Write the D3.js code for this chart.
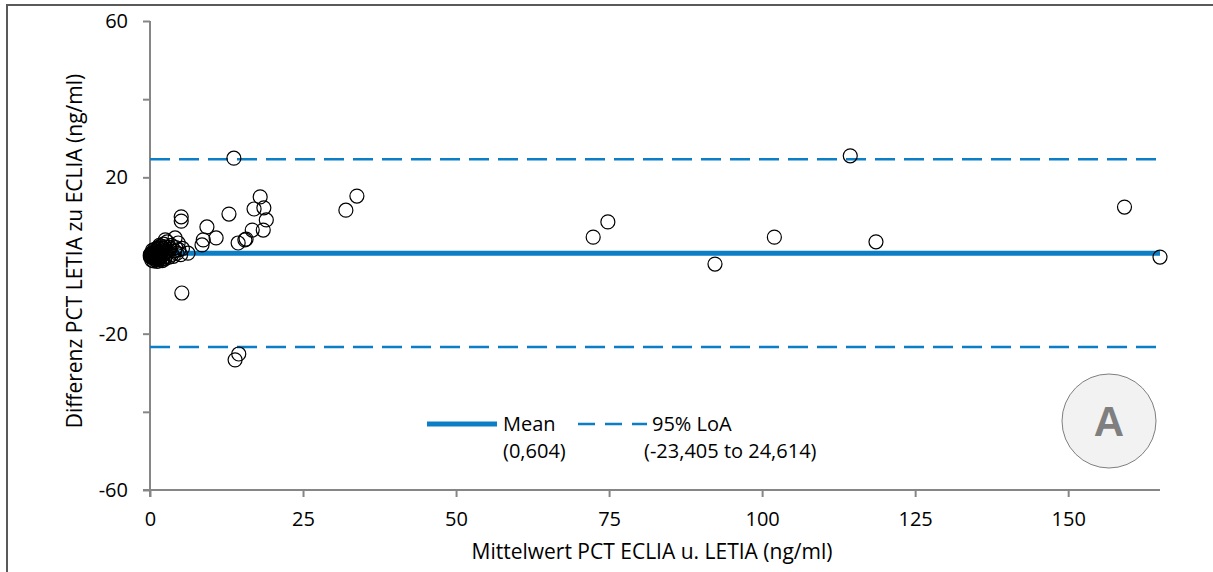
<!DOCTYPE html>
<html>
<head>
<meta charset="utf-8">
<script src="https://cdn.jsdelivr.net/npm/d3@7"></script>
<style>
  body { margin: 0; background: #fff; }
  svg { display: block; font-family: "Open Sans", "Noto Sans", sans-serif; }
</style>
</head>
<body>
<svg></svg>
<script>
const width = 1213;
const height = 572;

// Bland-Altman data: mean of methods (x) vs difference (y)
const meanValues = [
  0.1, 0.1, 0.2, 0.2, 0.3, 0.3, 0.4, 0.4, 0.5, 0.5, 0.6, 0.6, 0.7, 0.7, 0.8, 0.8, 0.9, 0.9, 1.0, 1.0,
  1.1, 1.1, 1.2, 1.2, 1.3, 1.3, 1.4, 1.5, 1.5, 1.6, 1.7, 1.8, 1.9, 2.0, 2.1, 2.2, 2.3, 2.4, 2.5, 2.6,
  2.8, 3.0, 3.1, 3.3, 3.5, 3.6, 3.8, 4.0, 4.2, 4.4, 4.7, 5.0, 5.3, 0.15, 0.25, 0.35, 0.45, 0.55, 0.65, 0.75,
  0.85, 0.95, 1.05, 1.15, 1.25, 1.35, 1.45, 1.55, 0.05, 0.05,
  0.3, 0.6, 0.9, 1.2, 1.6, 2.0, 2.4, 0.4, 0.8, 1.3, 1.8, 2.2, 2.7, 3.2,
  2.5, 4.1, 4.6, 6.2, 8.5, 8.7, 9.3, 10.8, 14.4, 15.5, 15.7, 16.7, 18.5,
  5.1, 5.1, 12.9, 17.0, 18.6, 19.0, 18.0, 13.7, 32.0, 33.8, 5.2, 13.9, 14.5,
  72.4, 74.8, 92.3, 102.0, 114.4, 118.6, 159.2, 165.0
];
const diffValues = [
  0.0, -0.1, 0.1, -0.2, 0.0, 0.2, -0.1, 0.3, 0.0, -0.3, 0.1, 0.4, -0.2, 0.2, 0.0, 0.5, -0.4, 0.3, 0.1, -0.2,
  0.6, 0.0, -0.5, 0.3, 0.8, -0.1, 0.2, -0.6, 1.0, 0.4, -0.3, 0.7, 1.4, 0.0, -0.8, 1.8, 0.5, 2.2, -0.2, 1.1,
  3.5, 0.8, -0.4, 1.6, 2.6, 0.3, -0.2, 1.2, 2.0, 0.6, 1.5, 0.2, 1.8, 0.4, -0.4, 0.6, -0.5, 0.7, -0.6, 0.9,
  -0.7, 1.2, -0.8, 1.5, -0.9, 2.0, -1.0, 2.6, 0.2, -0.3,
  -1.2, -1.4, -1.1, -1.5, -1.2, -1.3, -0.9, 1.3, 1.6, 1.9, 2.4, 2.9, 0.9, 2.1,
  4.0, 4.5, 3.2, 0.6, 2.7, 4.0, 7.3, 4.5, 3.2, 4.0, 4.2, 6.5, 6.5,
  9.9, 8.8, 10.6, 11.9, 12.2, 9.1, 15.0, 24.9, 11.6, 15.2, -9.6, -26.7, -25.2,
  4.7, 8.6, -2.2, 4.7, 25.5, 3.5, 12.4, -0.4
];

const biasMean = 0.604;
const loaLower = -23.405;
const loaUpper = 24.614;

const xTicks = [0, 25, 50, 75, 100, 125, 150];
const yTicks = [-60, -40, -20, 0, 20, 40, 60];
const yTickLabels = [-60, -20, 20, 60];

const blue = "#0B7EC6";
const axisGrey = "#868686";

const svg = d3.select("svg")
  .attr("width", width)
  .attr("height", height);

// outer chart frame
svg.append("rect")
  .attr("x", 7).attr("y", 5)
  .attr("width", 1220).attr("height", 600)
  .attr("fill", "none")
  .attr("stroke", "#595959")
  .attr("stroke-width", 2);

const x = d3.scaleLinear().domain([0, 165]).range([150, 1160]);
const y = d3.scaleLinear().domain([-60, 60]).range([490, 21]);

// y axis
const yAxis = svg.append("g")
  .attr("transform", "translate(150,0)")
  .call(d3.axisLeft(y).tickValues(yTicks).tickSize(7)
    .tickFormat(d => yTickLabels.includes(d) ? d : ""));
yAxis.select(".domain").attr("stroke", axisGrey).attr("stroke-width", 2).attr("d", "M0,21V497");
yAxis.selectAll(".tick line").attr("stroke", axisGrey).attr("stroke-width", 2);
yAxis.selectAll(".tick text")
  .attr("x", -22).attr("fill", "#000")
  .style("font-size", "20px").style("font-family", "'Open Sans', sans-serif");

// x axis
const xAxis = svg.append("g")
  .attr("transform", "translate(0,490)")
  .call(d3.axisBottom(x).tickValues(xTicks).tickSize(7));
xAxis.select(".domain").attr("stroke", axisGrey).attr("stroke-width", 2).attr("d", "M143,0H1160");
xAxis.selectAll(".tick text")
  .attr("y", 22).attr("fill", "#000")
  .style("font-size", "20px").style("font-family", "'Open Sans', sans-serif");
xAxis.selectAll(".tick line").attr("stroke", axisGrey).attr("stroke-width", 2);

// axis titles
svg.append("text")
  .attr("x", 652).attr("y", 559)
  .attr("text-anchor", "middle")
  .style("font-size", "21px")
  .text("Mittelwert PCT ECLIA u. LETIA (ng/ml)");

svg.append("text")
  .attr("transform", "translate(82,251) rotate(-90)")
  .attr("text-anchor", "middle")
  .style("font-size", "21px")
  .text("Differenz PCT LETIA zu ECLIA (ng/ml)");

// limits of agreement
svg.selectAll("line.loa")
  .data([loaLower, loaUpper])
  .enter().append("line")
  .attr("class", "loa")
  .attr("x1", x(0)).attr("x2", x(165))
  .attr("y1", d => y(d)).attr("y2", d => y(d))
  .attr("stroke", blue)
  .attr("stroke-width", 2.5)
  .attr("stroke-dasharray", "20,9");

// mean line
svg.append("line")
  .attr("x1", x(0)).attr("x2", x(165))
  .attr("y1", y(biasMean)).attr("y2", y(biasMean))
  .attr("stroke", blue)
  .attr("stroke-width", 5);

// points
svg.append("g")
  .selectAll("circle")
  .data(meanValues.map((m, i) => [m, diffValues[i]]))
  .enter().append("circle")
  .attr("cx", d => x(d[0]))
  .attr("cy", d => y(d[1]))
  .attr("r", 7)
  .attr("fill", "none")
  .attr("stroke", "#000")
  .attr("stroke-width", 1.2);

// legend
const lg = svg.append("g").style("font-size", "20px");
lg.append("line")
  .attr("x1", 427).attr("x2", 497).attr("y1", 424).attr("y2", 424)
  .attr("stroke", blue).attr("stroke-width", 5);
lg.append("text").attr("x", 503).attr("y", 431).text("Mean");
lg.append("text").attr("x", 503).attr("y", 458).text("(0,604)");
lg.append("line")
  .attr("x1", 578).attr("x2", 647).attr("y1", 424).attr("y2", 424)
  .attr("stroke", blue).attr("stroke-width", 2.5)
  .attr("stroke-dasharray", "17,10");
lg.append("text").attr("x", 652).attr("y", 431).text("95% LoA");
lg.append("text").attr("x", 644).attr("y", 458).text("(-23,405 to 24,614)");

// panel badge
svg.append("circle")
  .attr("cx", 1109).attr("cy", 421).attr("r", 47)
  .attr("fill", "#F2F2F2")
  .attr("stroke", "#7F7F7F")
  .attr("stroke-width", 1);
svg.append("text")
  .attr("x", 1109).attr("y", 436)
  .attr("text-anchor", "middle")
  .attr("fill", "#7F7F7F")
  .style("font-family", "'Liberation Sans', Arial, sans-serif")
  .style("font-weight", "bold")
  .style("font-size", "42px")
  .text("A");
</script>
</body>
</html>
